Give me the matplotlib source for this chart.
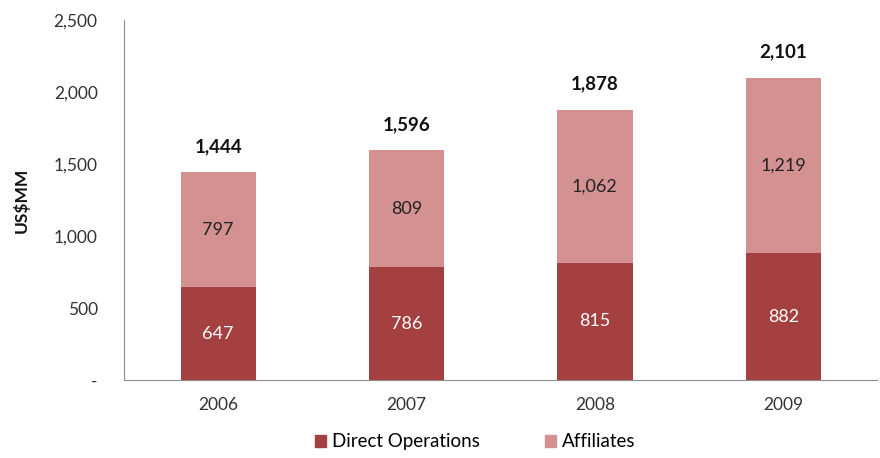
import matplotlib
matplotlib.use("Agg")
import matplotlib.pyplot as plt
from matplotlib.patches import Patch

years = ["2006", "2007", "2008", "2009"]
direct = [647, 786, 815, 882]
affiliates = [797, 809, 1062, 1219]
totals = [1444, 1596, 1878, 2101]
yticks = [0, 500, 1000, 1500, 2000, 2500]
ytick_labels = ["-", "500", "1,000", "1,500", "2,000", "2,500"]

plt.rcParams['font.family'] = ['Lato', 'DejaVu Sans']

c_dark = "#A4403F"
c_light = "#D39192"

fig = plt.figure(figsize=(8.8, 4.58), dpi=100)
ax = fig.add_axes([0.141, 0.170, 0.856, 0.786])

x = list(range(len(years)))
w = 0.4
ax.bar(x, direct, width=w, color=c_dark, label="Direct Operations")
ax.bar(x, affiliates, width=w, bottom=direct, color=c_light, label="Affiliates")

for i in x:
    ax.text(i, direct[i] / 2, f"{direct[i]:,}", ha="center", va="center",
            color="white", fontsize=13)
    ax.text(i, direct[i] + affiliates[i] / 2, f"{affiliates[i]:,}", ha="center",
            va="center", color="#222222", fontsize=13)
    ax.text(i, totals[i] + 180, f"{totals[i]:,}", ha="center", va="center",
            color="#111111", fontsize=13.5, fontweight="bold")

ax.set_xlim(-0.5, 3.5)
ax.set_ylim(0, 2500)
ax.set_xticks(x)
ax.set_xticklabels(years)
ax.set_yticks(yticks)
ax.set_yticklabels(ytick_labels)
ax.tick_params(axis="both", length=0, labelsize=12.5, colors="#333333")
ax.tick_params(axis="y", pad=19)
ax.tick_params(axis="x", pad=12)

for s in ["top", "right"]:
    ax.spines[s].set_visible(False)
ax.spines["left"].set_color("#8c8c8c")
ax.spines["bottom"].set_color("#8c8c8c")

ax.set_ylabel("US$MM", fontsize=12.5, fontweight="bold", color="#111111")
ax.yaxis.set_label_coords(-0.125, 0.5)

handles = [Patch(color=c_dark, label="Direct Operations"),
           Patch(color=c_light, label="Affiliates")]
fig.legend(handles=handles, loc="lower center", ncol=2, frameon=False,
           bbox_to_anchor=(0.54, -0.02), fontsize=13.5, handlelength=0.6,
           handleheight=0.6, handletextpad=0.3, columnspacing=3.5)

fig.savefig("out.png", dpi=100)
